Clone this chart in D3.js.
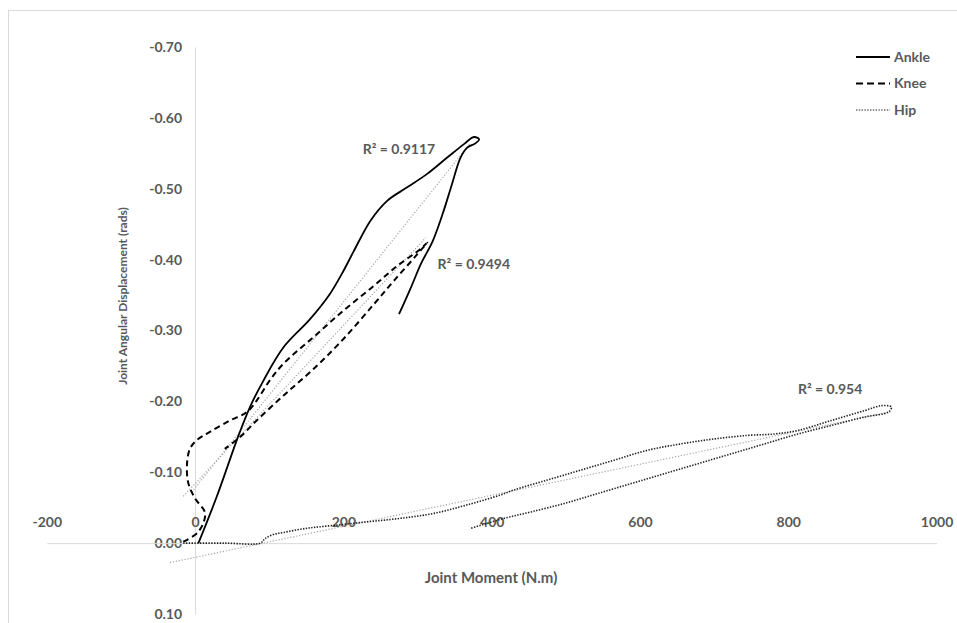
<!DOCTYPE html>
<html>
<head>
<meta charset="utf-8">
<script src="https://cdn.jsdelivr.net/npm/d3@7"></script>
<style>
  body { margin: 0; background: #fff; }
  text { font-family: Lato, "Open Sans", sans-serif; fill: #595959; }
  .axis path { stroke: #d9d9d9; }
  .axis text { font-size: 14px; font-weight: bold; fill: #595959; }
</style>
</head>
<body>
<svg id="chart"></svg>
<script>
// joint moment (N.m) vs joint angular displacement (rads)
const ankleMoment = [4.5, 29, 58.6, 74, 92, 119, 155, 182, 200, 214, 236.5, 259, 286, 313, 340, 362.6, 376, 383, 378, 367, 358, 346, 334, 320, 305, 290, 275];
const ankleDisp = [0, -0.065, -0.152, -0.192, -0.229, -0.276, -0.316, -0.352, -0.384, -0.412, -0.455, -0.483, -0.502, -0.521, -0.544, -0.563, -0.573, -0.570, -0.564, -0.558, -0.544, -0.505, -0.465, -0.425, -0.395, -0.358, -0.323];

const kneeMoment = [-16, 4.5, 13.5, 0, -9, -11, -7, 2, 20, 47, 70, 83, 101, 119, 160, 200, 241, 272.5, 304, 313, 300, 268, 241, 200, 160, 119, 83, 61, 40];
const kneeDisp = [-0.002, -0.016, -0.042, -0.063, -0.084, -0.110, -0.133, -0.145, -0.157, -0.173, -0.185, -0.201, -0.230, -0.253, -0.291, -0.328, -0.363, -0.391, -0.415, -0.424, -0.408, -0.370, -0.337, -0.288, -0.246, -0.208, -0.173, -0.150, -0.133];

const hipMoment = [-16, 40, 88, 94, 105, 119, 151, 187, 232, 277, 322, 367, 412, 430, 475, 520, 565, 610, 655, 700, 745, 781, 813, 858, 903, 926, 939, 935, 903, 858, 813, 768, 723, 678, 633, 588, 543, 498, 453, 417, 372];
const hipDisp = [0, 0, 0, -0.006, -0.012, -0.015, -0.021, -0.025, -0.030, -0.035, -0.042, -0.054, -0.068, -0.075, -0.089, -0.103, -0.117, -0.131, -0.140, -0.147, -0.152, -0.154, -0.159, -0.173, -0.187, -0.194, -0.192, -0.185, -0.178, -0.166, -0.154, -0.140, -0.126, -0.112, -0.098, -0.084, -0.070, -0.056, -0.044, -0.035, -0.021];

// linear trendlines: slope, intercept, x range, R² label and where it sits
const seriesNames = ["Ankle", "Knee", "Hip"];
const trendSlope = [-0.001311, -0.001116, -0.000219];
const trendIntercept = [-0.0779, -0.0839, 0.0201];
const trendFrom = [-4.5, -16, -34];
const trendTo = [370, 311, 939];
const r2Labels = ["R² = 0.9117", "R² = 0.9494", "R² = 0.954"];
const r2At = [[226, -0.556], [327, -0.393], [813, -0.218]];

const xTicks = [-200, 0, 200, 400, 600, 800, 1000];
const yTicks = [-0.7, -0.6, -0.5, -0.4, -0.3, -0.2, -0.1, 0, 0.1];

const width = 957;
const height = 623;

const svg = d3.select("#chart").attr("width", width).attr("height", height);

svg.append("rect")
  .attr("x", 8.5).attr("y", 10.5)
  .attr("width", 1000).attr("height", 700)
  .attr("fill", "none").attr("stroke", "#d9d9d9");

const xscale = d3.scaleLinear().domain([-200, 1000]).range([46.8, 936.6]);
const yscale = d3.scaleLinear().domain([-0.7, 0.1]).range([47, 614]);

const hyphen = (f) => (d) => f(d).replace("\u2212", "-");

const xaxis = d3.axisTop(xscale).tickValues(xTicks).tickSize(0).tickPadding(16).tickFormat(hyphen(d3.format("d")));
const yaxis = d3.axisLeft(yscale).tickValues(yTicks).tickSize(0).tickPadding(13).tickFormat(hyphen(d3.format(".2f")));

const g_yaxis = svg.append("g").attr("class", "y axis")
  .attr("transform", `translate(${xscale(0)},0)`).call(yaxis);
const g_xaxis = svg.append("g").attr("class", "x axis")
  .attr("transform", `translate(0,${yscale(0)})`).call(xaxis);

svg.append("text")
  .attr("x", 491).attr("y", 583)
  .attr("text-anchor", "middle")
  .style("font-size", "15px").style("font-weight", "bold")
  .text("Joint Moment (N.m)");

svg.append("text")
  .attr("transform", "translate(127,296) rotate(-90)")
  .attr("text-anchor", "middle")
  .style("font-size", "12px").style("font-weight", "bold")
  .text("Joint Angular Displacement (rads)");

const line = d3.line()
  .x((d) => xscale(d[0]))
  .y((d) => yscale(d[1]))
  .curve(d3.curveCatmullRom.alpha(0.5));

const styles = [
  { stroke: "#000", width: 1.8, dash: null },
  { stroke: "#000", width: 2, dash: "6,4" },
  { stroke: "#222", width: 1.6, dash: "1.4,1.4" }
];

// trendlines first, under the data
seriesNames.forEach((name, i) => {
  svg.append("line")
    .attr("x1", xscale(trendFrom[i]))
    .attr("y1", yscale(trendIntercept[i] + trendSlope[i] * trendFrom[i]))
    .attr("x2", xscale(trendTo[i]))
    .attr("y2", yscale(trendIntercept[i] + trendSlope[i] * trendTo[i]))
    .attr("stroke", "#a6a6a6")
    .attr("stroke-width", 1.2)
    .attr("stroke-dasharray", "1.2,1.8");
});

const seriesData = [
  d3.zip(ankleMoment, ankleDisp),
  d3.zip(kneeMoment, kneeDisp),
  d3.zip(hipMoment, hipDisp)
];

seriesData.forEach((pts, i) => {
  svg.append("path")
    .attr("d", line(pts))
    .attr("fill", "none")
    .attr("stroke", styles[i].stroke)
    .attr("stroke-width", styles[i].width)
    .attr("stroke-dasharray", styles[i].dash);
});

r2Labels.forEach((t, i) => {
  svg.append("text")
    .attr("x", xscale(r2At[i][0]))
    .attr("y", yscale(r2At[i][1]))
    .attr("dy", "0.35em")
    .style("font-size", "14px").style("font-weight", "bold")
    .text(t);
});

// legend
const legend = svg.append("g").attr("transform", "translate(856,57)");
seriesNames.forEach((name, i) => {
  const row = legend.append("g").attr("transform", `translate(0,${i * 26.5})`);
  row.append("line")
    .attr("x1", 0).attr("x2", 34)
    .attr("stroke", styles[i].stroke)
    .attr("stroke-width", i === 2 ? 1.2 : styles[i].width)
    .attr("stroke-dasharray", i === 1 ? "7,4" : styles[i].dash);
  row.append("text")
    .attr("x", 38).attr("dy", "0.35em")
    .style("font-size", "14px").style("font-weight", "bold")
    .text(name);
});
</script>
</body>
</html>
